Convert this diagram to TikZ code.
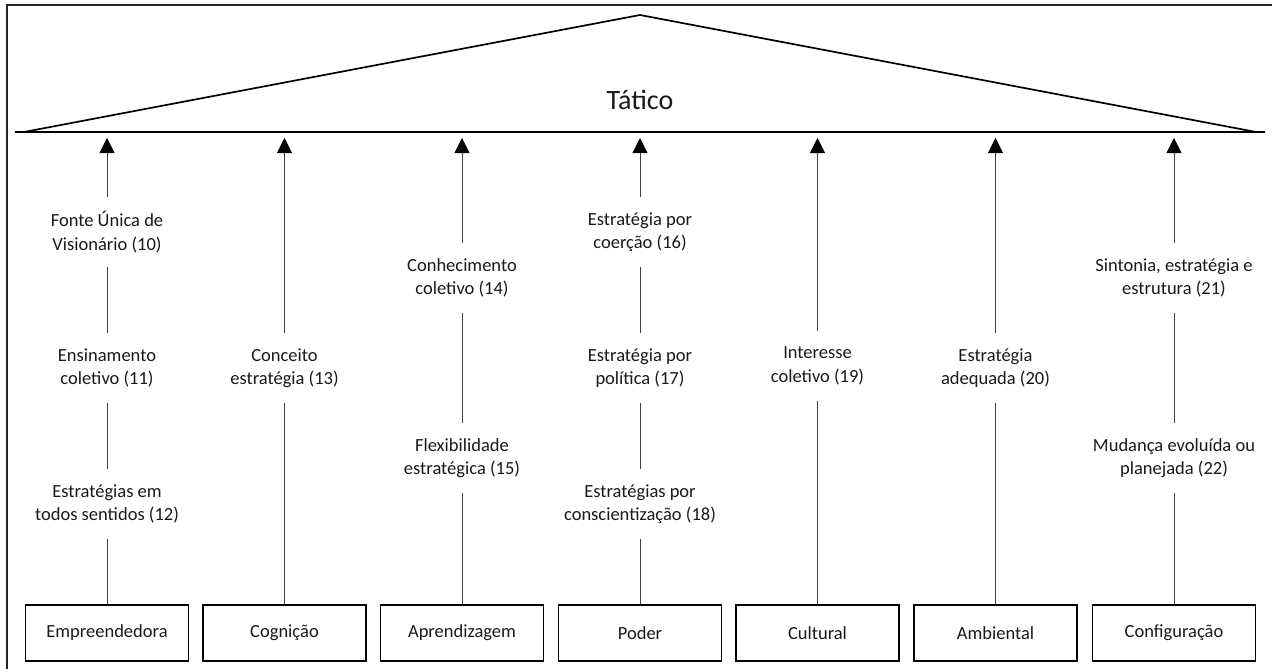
\documentclass[tikz,border=0pt]{standalone}
\usepackage{fontspec}
\setmainfont{Carlito}
\usetikzlibrary{arrows.meta}
\begin{document}
\begin{tikzpicture}[x=1pt,y=-1pt,
  lbl/.style={align=center, font=\fontsize{18.5}{23.5}\selectfont, text=black!90, minimum height=70pt, inner sep=0pt},
  box/.style={draw, line width=1.8pt, minimum width=163pt, minimum height=56pt, font=\fontsize{18.5}{23.5}\selectfont, text=black!90, inner sep=0pt},
  link/.style={line width=0.9pt, draw=black!75},
  up/.style={link, -{Triangle[width=15pt,length=15pt,color=black,fill=black]}},
  frame/.style={line width=1.5pt, draw=black!85},
  roof/.style={line width=1.7pt, draw=black}]
\useasboundingbox (0,0) rectangle (1272,669);
% outer frame
\draw[frame] (7,669) -- (7,5) -- (1272,5);
% roof triangle
\draw[roof] (15,132) -- (1265,132);
\draw[roof, line join=round] (24,132) -- (640,15) -- (1256,132);
\node[font=\fontsize{28}{32}\selectfont, text=black!90, anchor=base] (tatico) at (640,110) {Tático};
% arrow tip coordinates
\coordinate (t1) at (107,138);
\coordinate (t2) at (284.5,138);
\coordinate (t3) at (462,138);
\coordinate (t4) at (640,138);
\coordinate (t5) at (817.5,138);
\coordinate (t6) at (995.5,138);
\coordinate (t7) at (1174,138);
% boxes
\node[box] (b1) at (107,633) {Empreendedora};
\node[box] (b2) at (284.5,633) {Cognição};
\node[box] (b3) at (462,633) {Aprendizagem};
\node[box] (b4) at (640,633) {Poder};
\node[box] (b5) at (817.5,633) {Cultural};
\node[box] (b6) at (995.5,633) {Ambiental};
\node[box] (b7) at (1174,633) {Configuração};
% column 1
\node[lbl] (l10) at (107,232) {Fonte Única de\\Visionário (10)};
\node[lbl] (l11) at (107,368) {Ensinamento\\coletivo (11)};
\node[lbl] (l12) at (107,504) {Estratégias em\\todos sentidos (12)};
\draw[link] (b1.north) -- (l12.south);
\draw[link] (l12.north) -- (l11.south);
\draw[link] (l11.north) -- (l10.south);
\draw[up] (l10.north) -- (t1);
% column 2
\node[lbl] (l13) at (284.5,368) {Conceito\\estratégia (13)};
\draw[link] (b2.north) -- (l13.south);
\draw[up] (l13.north) -- (t2);
% column 3
\node[lbl] (l14) at (462,278) {Conhecimento\\coletivo (14)};
\node[lbl] (l15) at (462,458) {Flexibilidade\\estratégica (15)};
\draw[link] (b3.north) -- (l15.south);
\draw[link] (l15.north) -- (l14.south);
\draw[up] (l14.north) -- (t3);
% column 4
\node[lbl] (l16) at (640,232) {Estratégia por\\coerção (16)};
\node[lbl] (l17) at (640,368) {Estratégia por\\política (17)};
\node[lbl] (l18) at (640,504) {Estratégias por\\conscientização (18)};
\draw[link] (b4.north) -- (l18.south);
\draw[link] (l18.north) -- (l17.south);
\draw[link] (l17.north) -- (l16.south);
\draw[up] (l16.north) -- (t4);
% column 5
\node[lbl] (l19) at (817.5,366) {Interesse\\coletivo (19)};
\draw[link] (b5.north) -- (l19.south);
\draw[up] (l19.north) -- (t5);
% column 6
\node[lbl] (l20) at (995.5,368) {Estratégia\\adequada (20)};
\draw[link] (b6.north) -- (l20.south);
\draw[up] (l20.north) -- (t6);
% column 7
\node[lbl] (l21) at (1174,278) {Sintonia, estratégia e\\estrutura (21)};
\node[lbl] (l22) at (1174,458) {Mudança evoluída ou\\planejada (22)};
\draw[link] (b7.north) -- (l22.south);
\draw[link] (l22.north) -- (l21.south);
\draw[up] (l21.north) -- (t7);
\end{tikzpicture}
\end{document}
